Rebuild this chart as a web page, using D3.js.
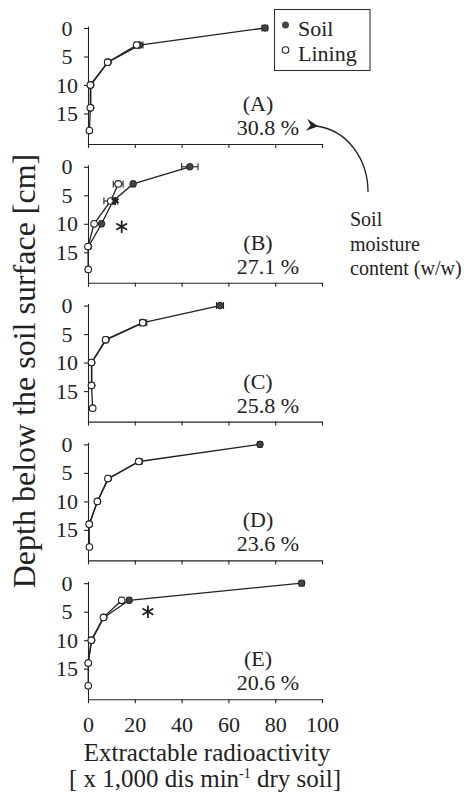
<!DOCTYPE html>
<html>
<head>
<meta charset="utf-8">
<script src="https://cdn.jsdelivr.net/npm/d3@7"></script>
<style>
  html, body { margin: 0; padding: 0; background: #fff; }
  svg { display: block; font-family: "Liberation Serif", "Times New Roman", serif; }
  .axis path, .axis line { stroke: #222; stroke-width: 1.1; }
  .axis text { font-family: "Liberation Serif", "Times New Roman", serif; font-size: 22px; fill: #222; }
</style>
</head>
<body>
<svg id="chart"></svg>
<script>
// Data
const panelLabels = ['(A)', '(B)', '(C)', '(D)', '(E)'];
const moisture = ['30.8 %', '27.1 %', '25.8 %', '23.6 %', '20.6 %'];

const soilDepths = [0, 3, 6, 10, 14];
const liningDepths = [3, 6, 10, 14, 18];

// activity (x 1,000 dis/min) per panel, and error half-widths
const soilValues = [
  [75.6, 22.0, 8.6, 1.2, 1.2],
  [43.5, 19.3, 10.7, 5.8, 0.2],
  [56.4, 23.6, 7.7, 1.6, 1.6],
  [73.5, 21.9, 8.7, 4.1, 0.6],
  [91.3, 17.6, 6.8, 1.6, 0.1]
];
const soilErrors = [
  [1.2, 1.5, 0.6, 0.5, 0.4],
  [3.5, 0.8, 0.6, 0.6, 0.3],
  [1.5, 1.5, 0.8, 0.4, 0.4],
  [0.8, 1.2, 0.8, 0.6, 0.3],
  [1.0, 0.8, 0.6, 0.4, 0.2]
];
const liningValues = [
  [20.8, 8.4, 1.0, 1.0, 0.6],
  [12.9, 9.7, 2.6, 0.0, 0.1],
  [23.4, 7.5, 1.5, 1.5, 2.0],
  [21.7, 8.5, 4.0, 0.5, 0.6],
  [14.4, 6.6, 1.4, 0.1, 0.1]
];
const liningErrors = [
  [1.0, 0.6, 0.5, 0.5, 0.3],
  [2.1, 2.9, 0.5, 0.3, 0.2],
  [0.8, 0.6, 0.4, 0.4, 0.4],
  [0.8, 0.6, 0.6, 0.3, 0.3],
  [0.8, 0.5, 0.4, 0.2, 0.2]
];

// significance marks: panel index, activity, depth, symbol size
const asterisks = [
  { panel: 1, value: 14.4, depth: 10.5, size: 110 },
  { panel: 1, value: 11.6, depth: 6.0, size: 45 },
  { panel: 4, value: 25.6, depth: 5.0, size: 110 }
];

const xTicks = [0, 20, 40, 60, 80, 100];
const yTicks = [0, 5, 10, 15];

// Dimensions
const width = 467, height = 805;
const firstZero = 28, panelStep = 138.8;
const ink = '#222';

const svg = d3.select('#chart').attr('width', width).attr('height', height);
svg.append('rect').attr('width', width).attr('height', height).attr('fill', '#fff');

const xScale = d3.scaleLinear().domain([0, 100]).range([88, 322]);

svg.append('defs').append('marker')
  .attr('id', 'arrow')
  .attr('viewBox', '0 0 10 10')
  .attr('refX', 2).attr('refY', 5)
  .attr('markerWidth', 12).attr('markerHeight', 12)
  .attr('markerUnits', 'userSpaceOnUse')
  .attr('orient', 'auto-start-reverse')
  .append('path')
  .attr('d', 'M0,5 L10,0 L6.5,5 L10,10 Z')
  .attr('fill', ink);

const errBar = (g, pts, y) => {
  g.selectAll('g.err')
    .data(pts)
    .join('g')
    .attr('class', 'err')
    .each(function(d) {
      const e = d3.select(this);
      const x0 = xScale(d.v - d.e), x1 = xScale(d.v + d.e), cy = y(d.d);
      e.append('line').attr('x1', x0).attr('x2', x1).attr('y1', cy).attr('y2', cy);
      e.append('line').attr('x1', x0).attr('x2', x0).attr('y1', cy - 3.5).attr('y2', cy + 3.5);
      e.append('line').attr('x1', x1).attr('x2', x1).attr('y1', cy - 3.5).attr('y2', cy + 3.5);
    })
    .attr('stroke', ink).attr('stroke-width', 1.1);
};

panelLabels.forEach((label, i) => {
  const y0 = firstZero + i * panelStep;
  const yScale = d3.scaleLinear().domain([-0.35, 20.35]).range([y0 - 2, y0 + 116]);
  const g = svg.append('g');

  // y axis
  const ya = g.append('g')
    .attr('class', 'axis')
    .attr('transform', `translate(${xScale(0)},0)`)
    .call(d3.axisLeft(yScale).tickValues(yTicks).tickSize(4).tickSizeOuter(0));
  ya.selectAll('text').attr('text-anchor', 'middle').attr('x', 67 - xScale(0));

  // x axis
  const xa = g.append('g')
    .attr('class', 'axis')
    .attr('transform', `translate(0,${yScale.range()[1]})`)
    .call(d3.axisBottom(xScale).tickValues(xTicks).tickSize(4).tickSizeOuter(0).tickPadding(13));
  if (i < panelLabels.length - 1) xa.selectAll('text').remove();

  const soil = soilDepths.map((d, j) => ({ d, v: soilValues[i][j], e: soilErrors[i][j] }));
  const lining = liningDepths.map((d, j) => ({ d, v: liningValues[i][j], e: liningErrors[i][j] }));

  const line = d3.line().x(p => xScale(p.v)).y(p => yScale(p.d));

  g.append('path').datum(lining).attr('d', line)
    .attr('fill', 'none').attr('stroke', ink).attr('stroke-width', 1.3);
  g.append('path').datum(soil).attr('d', line)
    .attr('fill', 'none').attr('stroke', ink).attr('stroke-width', 1.3);

  errBar(g.append('g'), soil, yScale);
  errBar(g.append('g'), lining, yScale);

  g.append('g').selectAll('circle').data(soil).join('circle')
    .attr('cx', p => xScale(p.v)).attr('cy', p => yScale(p.d)).attr('r', 3.3)
    .attr('fill', '#444').attr('stroke', ink).attr('stroke-width', 1);
  g.append('g').selectAll('circle').data(lining).join('circle')
    .attr('cx', p => xScale(p.v)).attr('cy', p => yScale(p.d)).attr('r', 3.3)
    .attr('fill', '#fff').attr('stroke', ink).attr('stroke-width', 1.1);

  g.selectAll('path.star')
    .data(asterisks.filter(a => a.panel === i))
    .join('path')
    .attr('class', 'star')
    .attr('transform', a => `translate(${xScale(a.value)},${yScale(a.depth)})`)
    .attr('d', a => d3.symbol(d3.symbolAsterisk, a.size)())
    .attr('stroke', ink).attr('stroke-width', 1.8).attr('fill', 'none');

  g.append('text').attr('x', 258).attr('y', y0 + 83)
    .attr('text-anchor', 'middle').attr('font-size', 22).attr('fill', ink).text(label);
  g.append('text').attr('x', 268).attr('y', y0 + 107)
    .attr('text-anchor', 'middle').attr('font-size', 22).attr('fill', ink).text(moisture[i]);
});

// legend
const legend = svg.append('g');
legend.append('rect').attr('x', 274.5).attr('y', 9.5).attr('width', 95.5).attr('height', 61)
  .attr('fill', '#fff').attr('stroke', '#333').attr('stroke-width', 1.1);
legend.append('circle').attr('cx', 285.5).attr('cy', 25).attr('r', 3.5).attr('fill', '#444');
legend.append('circle').attr('cx', 285.5).attr('cy', 50).attr('r', 3.3)
  .attr('fill', '#fff').attr('stroke', ink).attr('stroke-width', 1.1);
legend.append('text').attr('x', 298).attr('y', 36).attr('font-size', 22).attr('fill', ink).text('Soil');
legend.append('text').attr('x', 298).attr('y', 61).attr('font-size', 22).attr('fill', ink).text('Lining');

// moisture annotation
svg.append('path')
  .attr('d', 'M368,192 C368,160 348,130 316,126')
  .attr('fill', 'none').attr('stroke', ink).attr('stroke-width', 1.3)
  .attr('marker-end', 'url(#arrow)');
const note = svg.append('text').attr('font-size', 20).attr('fill', ink);
['Soil', 'moisture', 'content (w/w)'].forEach((t, k) => {
  note.append('tspan').attr('x', 350).attr('y', 226 + k * 24.5).text(t);
});

// axis titles
svg.append('text')
  .attr('transform', 'translate(35,371) rotate(-90)')
  .attr('text-anchor', 'middle').attr('font-size', 32).attr('fill', ink)
  .text('Depth below the soil surface [cm]');

svg.append('text').attr('x', 207).attr('y', 761)
  .attr('text-anchor', 'middle').attr('font-size', 25).attr('fill', ink)
  .text('Extractable radioactivity');
const sub = svg.append('text').attr('x', 205).attr('y', 787)
  .attr('text-anchor', 'middle').attr('font-size', 25).attr('fill', ink);
sub.append('tspan').text('[ x 1,000 dis min');
sub.append('tspan').attr('font-size', 14).attr('dy', -9).text('-1');
sub.append('tspan').attr('dy', 9).text(' dry soil]');
</script>
</body>
</html>
